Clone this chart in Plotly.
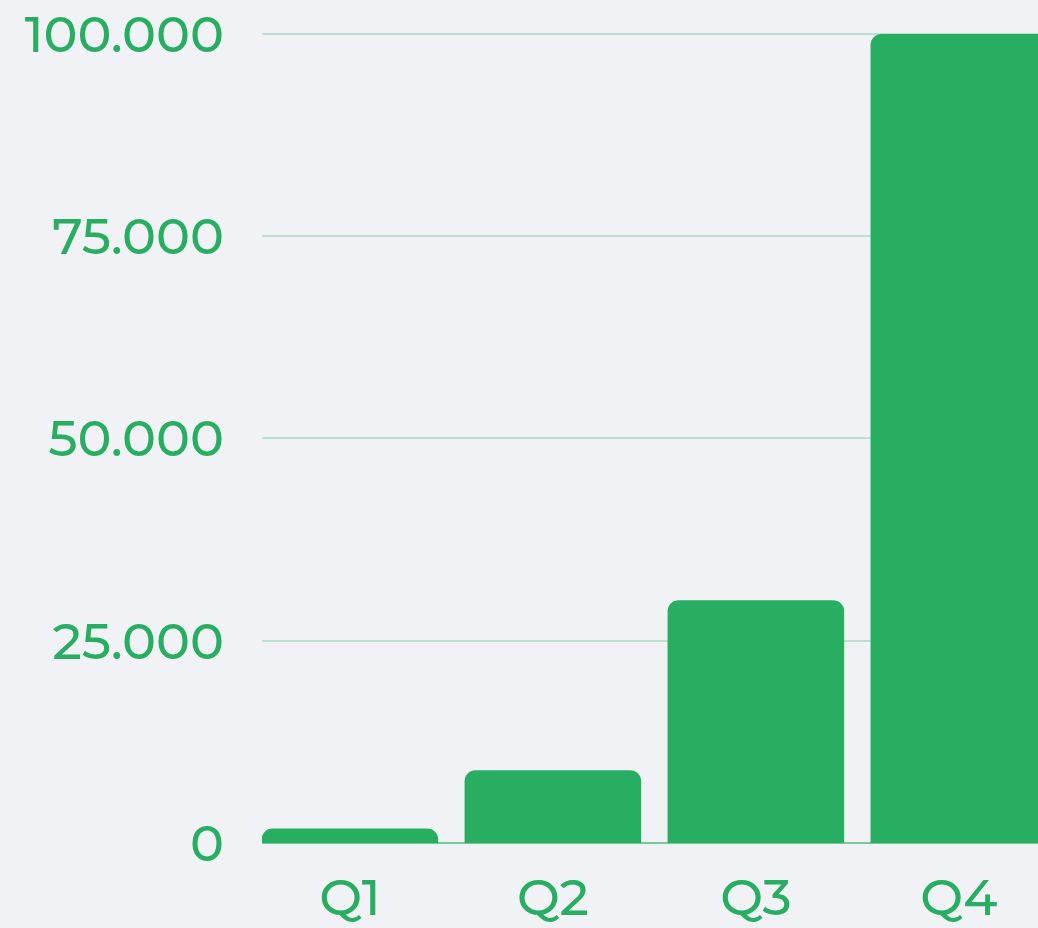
import plotly.graph_objects as go

quarters = ["Q1", "Q2", "Q3", "Q4"]
values = [1800, 9000, 30000, 100000]
tick_vals = [0, 25000, 50000, 75000, 100000]
tick_text = ["0", "25.000", "50.000", "75.000", "100.000"]

green = "#27AE60"
font_family = "Montserrat, Lato, Roboto, sans-serif"
label_font = dict(family=font_family, size=51, color=green, weight=500)

fig = go.Figure()
fig.add_trace(go.Bar(
    x=quarters,
    y=values,
    marker=dict(color=green, line=dict(width=0)),
))

fig.update_layout(
    width=1038,
    height=928,
    margin=dict(l=262, r=0, t=0, b=79),
    paper_bgcolor="#F0F2F5",
    plot_bgcolor="#F0F2F5",
    bargap=0.13,
    barcornerradius=11,
    showlegend=False,
    font=dict(family=font_family, color=green, size=51),
)
fig.update_xaxes(
    range=[-0.433, 3.39],
    showgrid=False,
    showline=False,
    ticks="",
    ticklabelstandoff=20,
    tickfont=label_font,
)
fig.update_yaxes(
    range=[0, 104192],
    tickvals=tick_vals,
    ticktext=tick_text,
    showgrid=True,
    gridcolor="rgba(39,174,96,0.25)",
    gridwidth=1.5,
    zeroline=True,
    zerolinecolor="rgba(39,174,96,0.6)",
    zerolinewidth=2,
    ticks="",
    ticklabelstandoff=37,
    tickfont=label_font,
)

fig.write_html(
    "out.html",
    config={"displayModeBar": False},
    post_script="document.body.style.margin='0';",
)
